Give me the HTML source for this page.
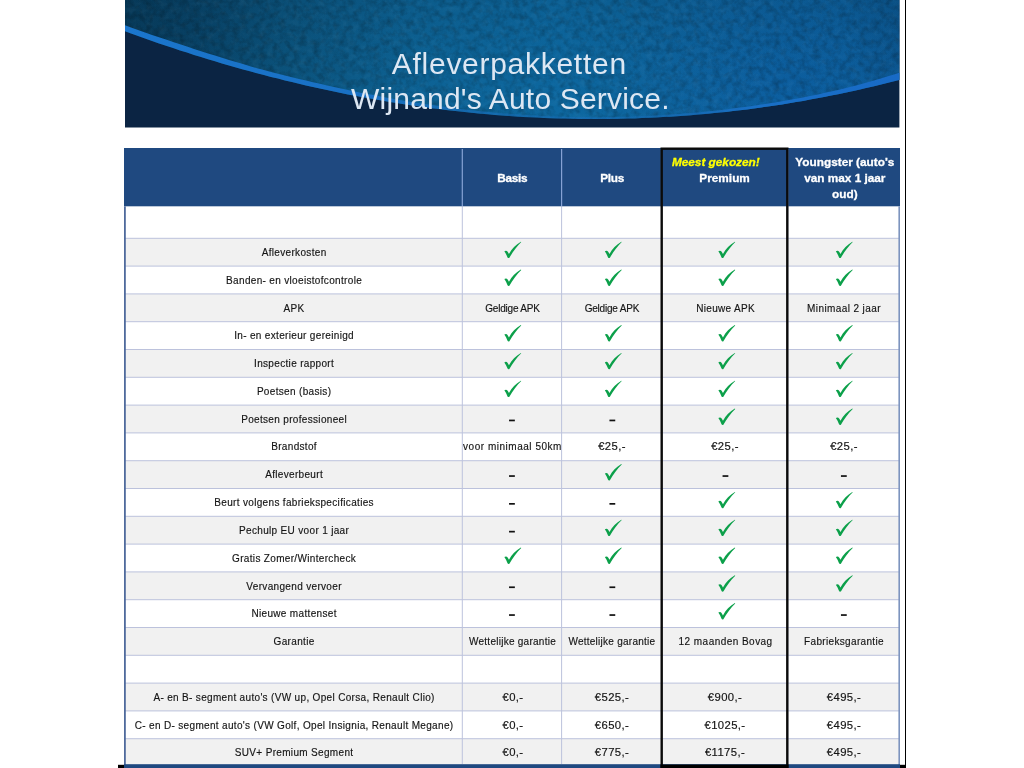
<!DOCTYPE html>
<html><head><meta charset="utf-8"><title>Afleverpakketten</title>
<style>
html,body{margin:0;padding:0;background:#fff;}
body{width:1024px;height:768px;position:relative;overflow:hidden;font-family:"Liberation Sans",sans-serif;}
#txt{position:absolute;left:0;top:0;width:1024px;height:768px;will-change:transform;}
.t{position:absolute;white-space:nowrap;text-align:center;transform:translateX(-50%);}
.c{font-size:10px;letter-spacing:0.33px;color:#141414;-webkit-text-stroke:0.15px #141414;line-height:12px;}
.h{font-size:11.8px;font-weight:700;color:#fff;line-height:16px;letter-spacing:0px;-webkit-text-stroke:0.3px currentColor;}
.title{font-size:30px;color:#dde7f3;line-height:34px;}
</style></head><body>
<svg width="1024" height="768" viewBox="0 0 1024 768" style="position:absolute;left:0;top:0">
<defs>
<linearGradient id="tex" x1="125" y1="0" x2="900" y2="0" gradientUnits="userSpaceOnUse">
<stop offset="0" stop-color="#073b5b"/><stop offset="0.085" stop-color="#084266"/><stop offset="0.21" stop-color="#0b547e"/><stop offset="0.38" stop-color="#0d6497"/><stop offset="0.56" stop-color="#0d69a2"/><stop offset="0.69" stop-color="#0d649c"/><stop offset="0.93" stop-color="#0c5f99"/><stop offset="1" stop-color="#0b558c"/>
</linearGradient>
<linearGradient id="vig" x1="0" y1="0" x2="0" y2="128" gradientUnits="userSpaceOnUse">
<stop offset="0" stop-color="#052a44" stop-opacity="0.14"/><stop offset="0.45" stop-color="#052a44" stop-opacity="0.05"/><stop offset="1" stop-color="#052a44" stop-opacity="0"/>
</linearGradient>
<radialGradient id="hl" cx="790" cy="100" r="190" gradientUnits="userSpaceOnUse">
<stop offset="0" stop-color="#0c5cb4" stop-opacity="0.30"/><stop offset="1" stop-color="#1468c0" stop-opacity="0"/>
</radialGradient>
<linearGradient id="ln" x1="125" y1="0" x2="900" y2="0" gradientUnits="userSpaceOnUse">
<stop offset="0" stop-color="#1b76cd" stop-opacity="1"/><stop offset="0.3" stop-color="#1a72c8" stop-opacity="0.95"/><stop offset="0.5" stop-color="#1a70c0" stop-opacity="0.45"/><stop offset="0.68" stop-color="#1a70c0" stop-opacity="0.45"/><stop offset="0.82" stop-color="#1a70c8" stop-opacity="0.95"/><stop offset="1" stop-color="#186ac6" stop-opacity="1"/>
</linearGradient>
<filter id="noise" x="0" y="0" width="100%" height="100%" color-interpolation-filters="sRGB">
<feTurbulence type="fractalNoise" baseFrequency="0.15" numOctaves="3" seed="7" result="n"/>
<feColorMatrix type="matrix" values="0 0 0 0 0  0 0 0 0 0  0 0 0 0 0  1.6 0 0 0 -0.62"/>
<feComposite in2="SourceGraphic" operator="in"/>
</filter>
<filter id="noise2" x="0" y="0" width="100%" height="100%" color-interpolation-filters="sRGB">
<feTurbulence type="fractalNoise" baseFrequency="0.15" numOctaves="3" seed="21" result="n"/>
<feColorMatrix type="matrix" values="0 0 0 0 1  0 0 0 0 1  0 0 0 0 1  1.6 0 0 0 -0.72"/>
<feComposite in2="SourceGraphic" operator="in"/>
</filter>
<clipPath id="bclip"><rect x="125" y="0" width="774.4" height="127.4"/></clipPath>
</defs>
<g clip-path="url(#bclip)">
<rect x="124" y="0" width="777" height="129" fill="#0b2443"/>
<path d="M124.0,31.0 L131.0,33.6 138.0,36.1 145.0,38.6 152.0,41.0 159.0,43.4 166.0,45.8 173.0,48.1 180.0,50.4 187.0,52.6 194.0,54.9 201.0,57.0 208.0,59.2 215.0,61.3 222.0,63.4 229.0,65.4 236.0,67.4 243.0,69.4 250.0,71.3 257.0,73.2 264.0,75.0 271.0,76.9 278.0,78.6 285.0,80.4 292.0,82.1 299.0,83.7 306.0,85.4 313.0,87.0 320.0,88.5 327.0,90.0 334.0,91.5 341.0,92.9 348.0,94.4 355.0,95.7 362.0,97.0 369.0,98.3 376.0,99.6 383.0,100.8 390.0,102.0 397.0,103.1 404.0,104.2 411.0,105.3 418.0,106.3 425.0,107.3 432.0,108.2 439.0,109.1 446.0,110.0 453.0,110.8 460.0,111.6 467.0,112.3 474.0,113.0 481.0,113.7 488.0,114.3 495.0,114.9 502.0,115.5 509.0,116.0 516.0,116.5 523.0,116.9 530.0,117.3 537.0,117.6 544.0,117.9 551.0,118.2 558.0,118.5 565.0,118.6 572.0,118.8 579.0,118.9 586.0,119.0 593.0,119.0 600.0,119.0 607.0,119.0 614.0,118.9 621.0,118.7 628.0,118.6 635.0,118.4 642.0,118.1 649.0,117.8 656.0,117.5 663.0,117.1 670.0,116.7 677.0,116.2 684.0,115.7 691.0,115.2 698.0,114.6 705.0,114.0 712.0,113.3 719.0,112.6 726.0,111.9 733.0,111.1 740.0,110.2 747.0,109.4 754.0,108.5 761.0,107.5 768.0,106.5 775.0,105.5 782.0,104.4 789.0,103.3 796.0,102.1 803.0,100.9 810.0,99.6 817.0,98.3 824.0,97.0 831.0,95.6 838.0,94.2 845.0,92.7 852.0,91.2 859.0,89.7 866.0,88.1 873.0,86.4 880.0,84.7 887.0,83.0 894.0,81.2 901.0,79.4 L901,-2 L124,-2 Z" fill="url(#tex)"/>
<path d="M124.0,31.0 L131.0,33.6 138.0,36.1 145.0,38.6 152.0,41.0 159.0,43.4 166.0,45.8 173.0,48.1 180.0,50.4 187.0,52.6 194.0,54.9 201.0,57.0 208.0,59.2 215.0,61.3 222.0,63.4 229.0,65.4 236.0,67.4 243.0,69.4 250.0,71.3 257.0,73.2 264.0,75.0 271.0,76.9 278.0,78.6 285.0,80.4 292.0,82.1 299.0,83.7 306.0,85.4 313.0,87.0 320.0,88.5 327.0,90.0 334.0,91.5 341.0,92.9 348.0,94.4 355.0,95.7 362.0,97.0 369.0,98.3 376.0,99.6 383.0,100.8 390.0,102.0 397.0,103.1 404.0,104.2 411.0,105.3 418.0,106.3 425.0,107.3 432.0,108.2 439.0,109.1 446.0,110.0 453.0,110.8 460.0,111.6 467.0,112.3 474.0,113.0 481.0,113.7 488.0,114.3 495.0,114.9 502.0,115.5 509.0,116.0 516.0,116.5 523.0,116.9 530.0,117.3 537.0,117.6 544.0,117.9 551.0,118.2 558.0,118.5 565.0,118.6 572.0,118.8 579.0,118.9 586.0,119.0 593.0,119.0 600.0,119.0 607.0,119.0 614.0,118.9 621.0,118.7 628.0,118.6 635.0,118.4 642.0,118.1 649.0,117.8 656.0,117.5 663.0,117.1 670.0,116.7 677.0,116.2 684.0,115.7 691.0,115.2 698.0,114.6 705.0,114.0 712.0,113.3 719.0,112.6 726.0,111.9 733.0,111.1 740.0,110.2 747.0,109.4 754.0,108.5 761.0,107.5 768.0,106.5 775.0,105.5 782.0,104.4 789.0,103.3 796.0,102.1 803.0,100.9 810.0,99.6 817.0,98.3 824.0,97.0 831.0,95.6 838.0,94.2 845.0,92.7 852.0,91.2 859.0,89.7 866.0,88.1 873.0,86.4 880.0,84.7 887.0,83.0 894.0,81.2 901.0,79.4 L901,-2 L124,-2 Z" fill="url(#hl)"/>
<path d="M124.0,31.0 L131.0,33.6 138.0,36.1 145.0,38.6 152.0,41.0 159.0,43.4 166.0,45.8 173.0,48.1 180.0,50.4 187.0,52.6 194.0,54.9 201.0,57.0 208.0,59.2 215.0,61.3 222.0,63.4 229.0,65.4 236.0,67.4 243.0,69.4 250.0,71.3 257.0,73.2 264.0,75.0 271.0,76.9 278.0,78.6 285.0,80.4 292.0,82.1 299.0,83.7 306.0,85.4 313.0,87.0 320.0,88.5 327.0,90.0 334.0,91.5 341.0,92.9 348.0,94.4 355.0,95.7 362.0,97.0 369.0,98.3 376.0,99.6 383.0,100.8 390.0,102.0 397.0,103.1 404.0,104.2 411.0,105.3 418.0,106.3 425.0,107.3 432.0,108.2 439.0,109.1 446.0,110.0 453.0,110.8 460.0,111.6 467.0,112.3 474.0,113.0 481.0,113.7 488.0,114.3 495.0,114.9 502.0,115.5 509.0,116.0 516.0,116.5 523.0,116.9 530.0,117.3 537.0,117.6 544.0,117.9 551.0,118.2 558.0,118.5 565.0,118.6 572.0,118.8 579.0,118.9 586.0,119.0 593.0,119.0 600.0,119.0 607.0,119.0 614.0,118.9 621.0,118.7 628.0,118.6 635.0,118.4 642.0,118.1 649.0,117.8 656.0,117.5 663.0,117.1 670.0,116.7 677.0,116.2 684.0,115.7 691.0,115.2 698.0,114.6 705.0,114.0 712.0,113.3 719.0,112.6 726.0,111.9 733.0,111.1 740.0,110.2 747.0,109.4 754.0,108.5 761.0,107.5 768.0,106.5 775.0,105.5 782.0,104.4 789.0,103.3 796.0,102.1 803.0,100.9 810.0,99.6 817.0,98.3 824.0,97.0 831.0,95.6 838.0,94.2 845.0,92.7 852.0,91.2 859.0,89.7 866.0,88.1 873.0,86.4 880.0,84.7 887.0,83.0 894.0,81.2 901.0,79.4 L901,-2 L124,-2 Z" fill="url(#vig)"/>
<path d="M124.0,31.0 L131.0,33.6 138.0,36.1 145.0,38.6 152.0,41.0 159.0,43.4 166.0,45.8 173.0,48.1 180.0,50.4 187.0,52.6 194.0,54.9 201.0,57.0 208.0,59.2 215.0,61.3 222.0,63.4 229.0,65.4 236.0,67.4 243.0,69.4 250.0,71.3 257.0,73.2 264.0,75.0 271.0,76.9 278.0,78.6 285.0,80.4 292.0,82.1 299.0,83.7 306.0,85.4 313.0,87.0 320.0,88.5 327.0,90.0 334.0,91.5 341.0,92.9 348.0,94.4 355.0,95.7 362.0,97.0 369.0,98.3 376.0,99.6 383.0,100.8 390.0,102.0 397.0,103.1 404.0,104.2 411.0,105.3 418.0,106.3 425.0,107.3 432.0,108.2 439.0,109.1 446.0,110.0 453.0,110.8 460.0,111.6 467.0,112.3 474.0,113.0 481.0,113.7 488.0,114.3 495.0,114.9 502.0,115.5 509.0,116.0 516.0,116.5 523.0,116.9 530.0,117.3 537.0,117.6 544.0,117.9 551.0,118.2 558.0,118.5 565.0,118.6 572.0,118.8 579.0,118.9 586.0,119.0 593.0,119.0 600.0,119.0 607.0,119.0 614.0,118.9 621.0,118.7 628.0,118.6 635.0,118.4 642.0,118.1 649.0,117.8 656.0,117.5 663.0,117.1 670.0,116.7 677.0,116.2 684.0,115.7 691.0,115.2 698.0,114.6 705.0,114.0 712.0,113.3 719.0,112.6 726.0,111.9 733.0,111.1 740.0,110.2 747.0,109.4 754.0,108.5 761.0,107.5 768.0,106.5 775.0,105.5 782.0,104.4 789.0,103.3 796.0,102.1 803.0,100.9 810.0,99.6 817.0,98.3 824.0,97.0 831.0,95.6 838.0,94.2 845.0,92.7 852.0,91.2 859.0,89.7 866.0,88.1 873.0,86.4 880.0,84.7 887.0,83.0 894.0,81.2 901.0,79.4 L901,-2 L124,-2 Z" fill="#021a30" filter="url(#noise)" opacity="0.28"/>
<path d="M124.0,31.0 L131.0,33.6 138.0,36.1 145.0,38.6 152.0,41.0 159.0,43.4 166.0,45.8 173.0,48.1 180.0,50.4 187.0,52.6 194.0,54.9 201.0,57.0 208.0,59.2 215.0,61.3 222.0,63.4 229.0,65.4 236.0,67.4 243.0,69.4 250.0,71.3 257.0,73.2 264.0,75.0 271.0,76.9 278.0,78.6 285.0,80.4 292.0,82.1 299.0,83.7 306.0,85.4 313.0,87.0 320.0,88.5 327.0,90.0 334.0,91.5 341.0,92.9 348.0,94.4 355.0,95.7 362.0,97.0 369.0,98.3 376.0,99.6 383.0,100.8 390.0,102.0 397.0,103.1 404.0,104.2 411.0,105.3 418.0,106.3 425.0,107.3 432.0,108.2 439.0,109.1 446.0,110.0 453.0,110.8 460.0,111.6 467.0,112.3 474.0,113.0 481.0,113.7 488.0,114.3 495.0,114.9 502.0,115.5 509.0,116.0 516.0,116.5 523.0,116.9 530.0,117.3 537.0,117.6 544.0,117.9 551.0,118.2 558.0,118.5 565.0,118.6 572.0,118.8 579.0,118.9 586.0,119.0 593.0,119.0 600.0,119.0 607.0,119.0 614.0,118.9 621.0,118.7 628.0,118.6 635.0,118.4 642.0,118.1 649.0,117.8 656.0,117.5 663.0,117.1 670.0,116.7 677.0,116.2 684.0,115.7 691.0,115.2 698.0,114.6 705.0,114.0 712.0,113.3 719.0,112.6 726.0,111.9 733.0,111.1 740.0,110.2 747.0,109.4 754.0,108.5 761.0,107.5 768.0,106.5 775.0,105.5 782.0,104.4 789.0,103.3 796.0,102.1 803.0,100.9 810.0,99.6 817.0,98.3 824.0,97.0 831.0,95.6 838.0,94.2 845.0,92.7 852.0,91.2 859.0,89.7 866.0,88.1 873.0,86.4 880.0,84.7 887.0,83.0 894.0,81.2 901.0,79.4 L901,-2 L124,-2 Z" fill="#fff" filter="url(#noise2)" opacity="0.05"/>
<path d="M124.0,31.0 L131.0,33.6 138.0,36.1 145.0,38.6 152.0,41.0 159.0,43.4 166.0,45.8 173.0,48.1 180.0,50.4 187.0,52.6 194.0,54.9 201.0,57.0 208.0,59.2 215.0,61.3 222.0,63.4 229.0,65.4 236.0,67.4 243.0,69.4 250.0,71.3 257.0,73.2 264.0,75.0 271.0,76.9 278.0,78.6 285.0,80.4 292.0,82.1 299.0,83.7 306.0,85.4 313.0,87.0 320.0,88.5 327.0,90.0 334.0,91.5 341.0,92.9 348.0,94.4 355.0,95.7 362.0,97.0 369.0,98.3 376.0,99.6 383.0,100.8 390.0,102.0 397.0,103.1 404.0,104.2 411.0,105.3 418.0,106.3 425.0,107.3 432.0,108.2 439.0,109.1 446.0,110.0 453.0,110.8 460.0,111.6 467.0,112.3 474.0,113.0 481.0,113.7 488.0,114.3 495.0,114.9 502.0,115.5 509.0,116.0 516.0,116.5 523.0,116.9 530.0,117.3 537.0,117.6 544.0,117.9 551.0,118.2 558.0,118.5 565.0,118.6 572.0,118.8 579.0,118.9 586.0,119.0 593.0,119.0 600.0,119.0 607.0,119.0 614.0,118.9 621.0,118.7 628.0,118.6 635.0,118.4 642.0,118.1 649.0,117.8 656.0,117.5 663.0,117.1 670.0,116.7 677.0,116.2 684.0,115.7 691.0,115.2 698.0,114.6 705.0,114.0 712.0,113.3 719.0,112.6 726.0,111.9 733.0,111.1 740.0,110.2 747.0,109.4 754.0,108.5 761.0,107.5 768.0,106.5 775.0,105.5 782.0,104.4 789.0,103.3 796.0,102.1 803.0,100.9 810.0,99.6 817.0,98.3 824.0,97.0 831.0,95.6 838.0,94.2 845.0,92.7 852.0,91.2 859.0,89.7 866.0,88.1 873.0,86.4 880.0,84.7 887.0,83.0 894.0,81.2 901.0,79.4 L901.0,72.2 894.0,74.4 887.0,76.6 880.0,78.7 873.0,80.7 866.0,82.7 859.0,84.7 852.0,86.5 845.0,88.2 838.0,89.9 831.0,91.5 824.0,93.1 817.0,94.7 810.0,96.1 803.0,97.4 796.0,98.7 789.0,100.0 782.0,101.2 775.0,102.4 768.0,103.5 761.0,104.6 754.0,105.7 747.0,106.7 740.0,107.6 733.0,108.5 726.0,109.4 719.0,110.2 712.0,111.0 705.0,111.7 698.0,112.4 691.0,113.0 684.0,113.6 677.0,114.1 670.0,114.6 663.0,115.1 656.0,115.5 649.0,115.8 642.0,116.1 635.0,116.4 628.0,116.7 621.0,116.9 614.0,117.0 607.0,117.1 600.0,117.2 593.0,117.2 586.0,117.1 579.0,117.0 572.0,116.9 565.0,116.7 558.0,116.5 551.0,116.2 544.0,115.9 537.0,115.6 530.0,115.2 523.0,114.8 516.0,114.3 509.0,113.8 502.0,113.3 495.0,112.7 488.0,112.0 481.0,111.3 474.0,110.5 467.0,109.7 460.0,108.9 453.0,108.0 446.0,107.1 439.0,106.1 432.0,105.1 425.0,104.1 418.0,103.0 411.0,101.9 404.0,100.7 397.0,99.5 390.0,98.3 383.0,97.0 376.0,95.6 369.0,94.3 362.0,92.9 355.0,91.4 348.0,90.0 341.0,88.4 334.0,86.9 327.0,85.4 320.0,83.8 313.0,82.2 306.0,80.6 299.0,79.0 292.0,77.3 285.0,75.5 278.0,73.7 271.0,71.9 264.0,70.1 257.0,68.2 250.0,66.2 243.0,64.1 236.0,62.1 229.0,60.0 222.0,57.8 215.0,55.6 208.0,53.4 201.0,51.2 194.0,48.9 187.0,46.5 180.0,44.2 173.0,41.9 166.0,39.6 159.0,37.2 152.0,34.9 145.0,32.4 138.0,30.0 131.0,27.5 124.0,24.9 Z" fill="url(#ln)"/>
</g>
<rect x="905" y="0" width="1" height="768" fill="#000"/>
<rect x="118" y="764.8" width="787" height="4" fill="#000"/>
<rect x="124.0" y="148.0" width="776.0" height="620.0" fill="#ffffff"/>
<rect x="124.0" y="238.3" width="776.0" height="27.80" fill="#f1f1f1"/>
<rect x="124.0" y="293.90000000000003" width="776.0" height="27.80" fill="#f1f1f1"/>
<rect x="124.0" y="349.5" width="776.0" height="27.80" fill="#f1f1f1"/>
<rect x="124.0" y="405.1" width="776.0" height="27.80" fill="#f1f1f1"/>
<rect x="124.0" y="460.70000000000005" width="776.0" height="27.80" fill="#f1f1f1"/>
<rect x="124.0" y="516.3" width="776.0" height="27.80" fill="#f1f1f1"/>
<rect x="124.0" y="571.9000000000001" width="776.0" height="27.80" fill="#f1f1f1"/>
<rect x="124.0" y="627.5" width="776.0" height="27.80" fill="#f1f1f1"/>
<rect x="124.0" y="683.1" width="776.0" height="27.80" fill="#f1f1f1"/>
<rect x="124.0" y="738.7" width="776.0" height="27.80" fill="#f1f1f1"/>
<rect x="124.0" y="237.80" width="776.0" height="1.0" fill="#bcc2dc"/>
<rect x="124.0" y="265.60" width="776.0" height="1.0" fill="#bcc2dc"/>
<rect x="124.0" y="293.40" width="776.0" height="1.0" fill="#bcc2dc"/>
<rect x="124.0" y="321.20" width="776.0" height="1.0" fill="#bcc2dc"/>
<rect x="124.0" y="349.00" width="776.0" height="1.0" fill="#bcc2dc"/>
<rect x="124.0" y="376.80" width="776.0" height="1.0" fill="#bcc2dc"/>
<rect x="124.0" y="404.60" width="776.0" height="1.0" fill="#bcc2dc"/>
<rect x="124.0" y="432.40" width="776.0" height="1.0" fill="#bcc2dc"/>
<rect x="124.0" y="460.20" width="776.0" height="1.0" fill="#bcc2dc"/>
<rect x="124.0" y="488.00" width="776.0" height="1.0" fill="#bcc2dc"/>
<rect x="124.0" y="515.80" width="776.0" height="1.0" fill="#bcc2dc"/>
<rect x="124.0" y="543.60" width="776.0" height="1.0" fill="#bcc2dc"/>
<rect x="124.0" y="571.40" width="776.0" height="1.0" fill="#bcc2dc"/>
<rect x="124.0" y="599.20" width="776.0" height="1.0" fill="#bcc2dc"/>
<rect x="124.0" y="627.00" width="776.0" height="1.0" fill="#bcc2dc"/>
<rect x="124.0" y="654.80" width="776.0" height="1.0" fill="#bcc2dc"/>
<rect x="124.0" y="682.60" width="776.0" height="1.0" fill="#bcc2dc"/>
<rect x="124.0" y="710.40" width="776.0" height="1.0" fill="#bcc2dc"/>
<rect x="124.0" y="738.20" width="776.0" height="1.0" fill="#bcc2dc"/>
<rect x="124.0" y="148.0" width="776.0" height="58.30000000000001" fill="#1f4980"/>
<rect x="461.80" y="206.3" width="1.0" height="557.7" fill="#bcc2dc"/>
<rect x="461.70" y="149.0" width="1.2" height="57.30000000000001" fill="#86a2d4"/>
<rect x="561.10" y="206.3" width="1.0" height="557.7" fill="#bcc2dc"/>
<rect x="561.00" y="149.0" width="1.2" height="57.30000000000001" fill="#86a2d4"/>
<rect x="661.00" y="206.3" width="1.0" height="557.7" fill="#bcc2dc"/>
<rect x="660.90" y="149.0" width="1.2" height="57.30000000000001" fill="#86a2d4"/>
<rect x="787.30" y="206.3" width="1.0" height="557.7" fill="#bcc2dc"/>
<rect x="787.20" y="149.0" width="1.2" height="57.30000000000001" fill="#86a2d4"/>
<rect x="124.0" y="206.3" width="1.8" height="561.7" fill="#4f6a9c"/>
<rect x="898.4" y="206.3" width="1.6" height="561.7" fill="#7d94be"/>
<rect x="124.0" y="764.2" width="776.0" height="4" fill="#1f4980"/>
<rect x="661.7" y="148.7" width="125.6" height="625" fill="none" stroke="#0a0a0a" stroke-width="2.4"/>
<rect x="660.5" y="764.5" width="128" height="4" fill="#000"/>
<path transform="translate(504.35,241.90)" d="M0,9.3 C1.3,8.4 2.5,8.5 3.5,10.1 L4.6,12.1 C7.4,7 11.4,2.6 16.5,-0.2 L16.9,0.2 C12.3,4.8 8.2,10.3 5.2,15.7 C4.7,16.4 3.6,16.4 3.2,15.5 C2.2,13.1 1.2,11 0,9.3 Z" fill="#0ca04a"/>
<path transform="translate(604.85,241.90)" d="M0,9.3 C1.3,8.4 2.5,8.5 3.5,10.1 L4.6,12.1 C7.4,7 11.4,2.6 16.5,-0.2 L16.9,0.2 C12.3,4.8 8.2,10.3 5.2,15.7 C4.7,16.4 3.6,16.4 3.2,15.5 C2.2,13.1 1.2,11 0,9.3 Z" fill="#0ca04a"/>
<path transform="translate(718.35,241.90)" d="M0,9.3 C1.3,8.4 2.5,8.5 3.5,10.1 L4.6,12.1 C7.4,7 11.4,2.6 16.5,-0.2 L16.9,0.2 C12.3,4.8 8.2,10.3 5.2,15.7 C4.7,16.4 3.6,16.4 3.2,15.5 C2.2,13.1 1.2,11 0,9.3 Z" fill="#0ca04a"/>
<path transform="translate(835.85,241.90)" d="M0,9.3 C1.3,8.4 2.5,8.5 3.5,10.1 L4.6,12.1 C7.4,7 11.4,2.6 16.5,-0.2 L16.9,0.2 C12.3,4.8 8.2,10.3 5.2,15.7 C4.7,16.4 3.6,16.4 3.2,15.5 C2.2,13.1 1.2,11 0,9.3 Z" fill="#0ca04a"/>
<path transform="translate(504.35,269.70)" d="M0,9.3 C1.3,8.4 2.5,8.5 3.5,10.1 L4.6,12.1 C7.4,7 11.4,2.6 16.5,-0.2 L16.9,0.2 C12.3,4.8 8.2,10.3 5.2,15.7 C4.7,16.4 3.6,16.4 3.2,15.5 C2.2,13.1 1.2,11 0,9.3 Z" fill="#0ca04a"/>
<path transform="translate(604.85,269.70)" d="M0,9.3 C1.3,8.4 2.5,8.5 3.5,10.1 L4.6,12.1 C7.4,7 11.4,2.6 16.5,-0.2 L16.9,0.2 C12.3,4.8 8.2,10.3 5.2,15.7 C4.7,16.4 3.6,16.4 3.2,15.5 C2.2,13.1 1.2,11 0,9.3 Z" fill="#0ca04a"/>
<path transform="translate(718.35,269.70)" d="M0,9.3 C1.3,8.4 2.5,8.5 3.5,10.1 L4.6,12.1 C7.4,7 11.4,2.6 16.5,-0.2 L16.9,0.2 C12.3,4.8 8.2,10.3 5.2,15.7 C4.7,16.4 3.6,16.4 3.2,15.5 C2.2,13.1 1.2,11 0,9.3 Z" fill="#0ca04a"/>
<path transform="translate(835.85,269.70)" d="M0,9.3 C1.3,8.4 2.5,8.5 3.5,10.1 L4.6,12.1 C7.4,7 11.4,2.6 16.5,-0.2 L16.9,0.2 C12.3,4.8 8.2,10.3 5.2,15.7 C4.7,16.4 3.6,16.4 3.2,15.5 C2.2,13.1 1.2,11 0,9.3 Z" fill="#0ca04a"/>
<path transform="translate(504.35,325.30)" d="M0,9.3 C1.3,8.4 2.5,8.5 3.5,10.1 L4.6,12.1 C7.4,7 11.4,2.6 16.5,-0.2 L16.9,0.2 C12.3,4.8 8.2,10.3 5.2,15.7 C4.7,16.4 3.6,16.4 3.2,15.5 C2.2,13.1 1.2,11 0,9.3 Z" fill="#0ca04a"/>
<path transform="translate(604.85,325.30)" d="M0,9.3 C1.3,8.4 2.5,8.5 3.5,10.1 L4.6,12.1 C7.4,7 11.4,2.6 16.5,-0.2 L16.9,0.2 C12.3,4.8 8.2,10.3 5.2,15.7 C4.7,16.4 3.6,16.4 3.2,15.5 C2.2,13.1 1.2,11 0,9.3 Z" fill="#0ca04a"/>
<path transform="translate(718.35,325.30)" d="M0,9.3 C1.3,8.4 2.5,8.5 3.5,10.1 L4.6,12.1 C7.4,7 11.4,2.6 16.5,-0.2 L16.9,0.2 C12.3,4.8 8.2,10.3 5.2,15.7 C4.7,16.4 3.6,16.4 3.2,15.5 C2.2,13.1 1.2,11 0,9.3 Z" fill="#0ca04a"/>
<path transform="translate(835.85,325.30)" d="M0,9.3 C1.3,8.4 2.5,8.5 3.5,10.1 L4.6,12.1 C7.4,7 11.4,2.6 16.5,-0.2 L16.9,0.2 C12.3,4.8 8.2,10.3 5.2,15.7 C4.7,16.4 3.6,16.4 3.2,15.5 C2.2,13.1 1.2,11 0,9.3 Z" fill="#0ca04a"/>
<path transform="translate(504.35,353.10)" d="M0,9.3 C1.3,8.4 2.5,8.5 3.5,10.1 L4.6,12.1 C7.4,7 11.4,2.6 16.5,-0.2 L16.9,0.2 C12.3,4.8 8.2,10.3 5.2,15.7 C4.7,16.4 3.6,16.4 3.2,15.5 C2.2,13.1 1.2,11 0,9.3 Z" fill="#0ca04a"/>
<path transform="translate(604.85,353.10)" d="M0,9.3 C1.3,8.4 2.5,8.5 3.5,10.1 L4.6,12.1 C7.4,7 11.4,2.6 16.5,-0.2 L16.9,0.2 C12.3,4.8 8.2,10.3 5.2,15.7 C4.7,16.4 3.6,16.4 3.2,15.5 C2.2,13.1 1.2,11 0,9.3 Z" fill="#0ca04a"/>
<path transform="translate(718.35,353.10)" d="M0,9.3 C1.3,8.4 2.5,8.5 3.5,10.1 L4.6,12.1 C7.4,7 11.4,2.6 16.5,-0.2 L16.9,0.2 C12.3,4.8 8.2,10.3 5.2,15.7 C4.7,16.4 3.6,16.4 3.2,15.5 C2.2,13.1 1.2,11 0,9.3 Z" fill="#0ca04a"/>
<path transform="translate(835.85,353.10)" d="M0,9.3 C1.3,8.4 2.5,8.5 3.5,10.1 L4.6,12.1 C7.4,7 11.4,2.6 16.5,-0.2 L16.9,0.2 C12.3,4.8 8.2,10.3 5.2,15.7 C4.7,16.4 3.6,16.4 3.2,15.5 C2.2,13.1 1.2,11 0,9.3 Z" fill="#0ca04a"/>
<path transform="translate(504.35,380.90)" d="M0,9.3 C1.3,8.4 2.5,8.5 3.5,10.1 L4.6,12.1 C7.4,7 11.4,2.6 16.5,-0.2 L16.9,0.2 C12.3,4.8 8.2,10.3 5.2,15.7 C4.7,16.4 3.6,16.4 3.2,15.5 C2.2,13.1 1.2,11 0,9.3 Z" fill="#0ca04a"/>
<path transform="translate(604.85,380.90)" d="M0,9.3 C1.3,8.4 2.5,8.5 3.5,10.1 L4.6,12.1 C7.4,7 11.4,2.6 16.5,-0.2 L16.9,0.2 C12.3,4.8 8.2,10.3 5.2,15.7 C4.7,16.4 3.6,16.4 3.2,15.5 C2.2,13.1 1.2,11 0,9.3 Z" fill="#0ca04a"/>
<path transform="translate(718.35,380.90)" d="M0,9.3 C1.3,8.4 2.5,8.5 3.5,10.1 L4.6,12.1 C7.4,7 11.4,2.6 16.5,-0.2 L16.9,0.2 C12.3,4.8 8.2,10.3 5.2,15.7 C4.7,16.4 3.6,16.4 3.2,15.5 C2.2,13.1 1.2,11 0,9.3 Z" fill="#0ca04a"/>
<path transform="translate(835.85,380.90)" d="M0,9.3 C1.3,8.4 2.5,8.5 3.5,10.1 L4.6,12.1 C7.4,7 11.4,2.6 16.5,-0.2 L16.9,0.2 C12.3,4.8 8.2,10.3 5.2,15.7 C4.7,16.4 3.6,16.4 3.2,15.5 C2.2,13.1 1.2,11 0,9.3 Z" fill="#0ca04a"/>
<rect x="509.05" y="419.60" width="5.8" height="1.7" fill="#111"/>
<rect x="609.45" y="419.60" width="5.8" height="1.7" fill="#111"/>
<path transform="translate(718.35,408.70)" d="M0,9.3 C1.3,8.4 2.5,8.5 3.5,10.1 L4.6,12.1 C7.4,7 11.4,2.6 16.5,-0.2 L16.9,0.2 C12.3,4.8 8.2,10.3 5.2,15.7 C4.7,16.4 3.6,16.4 3.2,15.5 C2.2,13.1 1.2,11 0,9.3 Z" fill="#0ca04a"/>
<path transform="translate(835.85,408.70)" d="M0,9.3 C1.3,8.4 2.5,8.5 3.5,10.1 L4.6,12.1 C7.4,7 11.4,2.6 16.5,-0.2 L16.9,0.2 C12.3,4.8 8.2,10.3 5.2,15.7 C4.7,16.4 3.6,16.4 3.2,15.5 C2.2,13.1 1.2,11 0,9.3 Z" fill="#0ca04a"/>
<rect x="509.05" y="475.20" width="5.8" height="1.7" fill="#111"/>
<path transform="translate(604.85,464.30)" d="M0,9.3 C1.3,8.4 2.5,8.5 3.5,10.1 L4.6,12.1 C7.4,7 11.4,2.6 16.5,-0.2 L16.9,0.2 C12.3,4.8 8.2,10.3 5.2,15.7 C4.7,16.4 3.6,16.4 3.2,15.5 C2.2,13.1 1.2,11 0,9.3 Z" fill="#0ca04a"/>
<rect x="722.55" y="475.20" width="5.8" height="1.7" fill="#111"/>
<rect x="840.95" y="475.20" width="5.8" height="1.7" fill="#111"/>
<rect x="509.05" y="503.00" width="5.8" height="1.7" fill="#111"/>
<rect x="609.45" y="503.00" width="5.8" height="1.7" fill="#111"/>
<path transform="translate(718.35,492.10)" d="M0,9.3 C1.3,8.4 2.5,8.5 3.5,10.1 L4.6,12.1 C7.4,7 11.4,2.6 16.5,-0.2 L16.9,0.2 C12.3,4.8 8.2,10.3 5.2,15.7 C4.7,16.4 3.6,16.4 3.2,15.5 C2.2,13.1 1.2,11 0,9.3 Z" fill="#0ca04a"/>
<path transform="translate(835.85,492.10)" d="M0,9.3 C1.3,8.4 2.5,8.5 3.5,10.1 L4.6,12.1 C7.4,7 11.4,2.6 16.5,-0.2 L16.9,0.2 C12.3,4.8 8.2,10.3 5.2,15.7 C4.7,16.4 3.6,16.4 3.2,15.5 C2.2,13.1 1.2,11 0,9.3 Z" fill="#0ca04a"/>
<rect x="509.05" y="530.80" width="5.8" height="1.7" fill="#111"/>
<path transform="translate(604.85,519.90)" d="M0,9.3 C1.3,8.4 2.5,8.5 3.5,10.1 L4.6,12.1 C7.4,7 11.4,2.6 16.5,-0.2 L16.9,0.2 C12.3,4.8 8.2,10.3 5.2,15.7 C4.7,16.4 3.6,16.4 3.2,15.5 C2.2,13.1 1.2,11 0,9.3 Z" fill="#0ca04a"/>
<path transform="translate(718.35,519.90)" d="M0,9.3 C1.3,8.4 2.5,8.5 3.5,10.1 L4.6,12.1 C7.4,7 11.4,2.6 16.5,-0.2 L16.9,0.2 C12.3,4.8 8.2,10.3 5.2,15.7 C4.7,16.4 3.6,16.4 3.2,15.5 C2.2,13.1 1.2,11 0,9.3 Z" fill="#0ca04a"/>
<path transform="translate(835.85,519.90)" d="M0,9.3 C1.3,8.4 2.5,8.5 3.5,10.1 L4.6,12.1 C7.4,7 11.4,2.6 16.5,-0.2 L16.9,0.2 C12.3,4.8 8.2,10.3 5.2,15.7 C4.7,16.4 3.6,16.4 3.2,15.5 C2.2,13.1 1.2,11 0,9.3 Z" fill="#0ca04a"/>
<path transform="translate(504.35,547.70)" d="M0,9.3 C1.3,8.4 2.5,8.5 3.5,10.1 L4.6,12.1 C7.4,7 11.4,2.6 16.5,-0.2 L16.9,0.2 C12.3,4.8 8.2,10.3 5.2,15.7 C4.7,16.4 3.6,16.4 3.2,15.5 C2.2,13.1 1.2,11 0,9.3 Z" fill="#0ca04a"/>
<path transform="translate(604.85,547.70)" d="M0,9.3 C1.3,8.4 2.5,8.5 3.5,10.1 L4.6,12.1 C7.4,7 11.4,2.6 16.5,-0.2 L16.9,0.2 C12.3,4.8 8.2,10.3 5.2,15.7 C4.7,16.4 3.6,16.4 3.2,15.5 C2.2,13.1 1.2,11 0,9.3 Z" fill="#0ca04a"/>
<path transform="translate(718.35,547.70)" d="M0,9.3 C1.3,8.4 2.5,8.5 3.5,10.1 L4.6,12.1 C7.4,7 11.4,2.6 16.5,-0.2 L16.9,0.2 C12.3,4.8 8.2,10.3 5.2,15.7 C4.7,16.4 3.6,16.4 3.2,15.5 C2.2,13.1 1.2,11 0,9.3 Z" fill="#0ca04a"/>
<path transform="translate(835.85,547.70)" d="M0,9.3 C1.3,8.4 2.5,8.5 3.5,10.1 L4.6,12.1 C7.4,7 11.4,2.6 16.5,-0.2 L16.9,0.2 C12.3,4.8 8.2,10.3 5.2,15.7 C4.7,16.4 3.6,16.4 3.2,15.5 C2.2,13.1 1.2,11 0,9.3 Z" fill="#0ca04a"/>
<rect x="509.05" y="586.40" width="5.8" height="1.7" fill="#111"/>
<rect x="609.45" y="586.40" width="5.8" height="1.7" fill="#111"/>
<path transform="translate(718.35,575.50)" d="M0,9.3 C1.3,8.4 2.5,8.5 3.5,10.1 L4.6,12.1 C7.4,7 11.4,2.6 16.5,-0.2 L16.9,0.2 C12.3,4.8 8.2,10.3 5.2,15.7 C4.7,16.4 3.6,16.4 3.2,15.5 C2.2,13.1 1.2,11 0,9.3 Z" fill="#0ca04a"/>
<path transform="translate(835.85,575.50)" d="M0,9.3 C1.3,8.4 2.5,8.5 3.5,10.1 L4.6,12.1 C7.4,7 11.4,2.6 16.5,-0.2 L16.9,0.2 C12.3,4.8 8.2,10.3 5.2,15.7 C4.7,16.4 3.6,16.4 3.2,15.5 C2.2,13.1 1.2,11 0,9.3 Z" fill="#0ca04a"/>
<rect x="509.05" y="614.20" width="5.8" height="1.7" fill="#111"/>
<rect x="609.45" y="614.20" width="5.8" height="1.7" fill="#111"/>
<path transform="translate(718.35,603.30)" d="M0,9.3 C1.3,8.4 2.5,8.5 3.5,10.1 L4.6,12.1 C7.4,7 11.4,2.6 16.5,-0.2 L16.9,0.2 C12.3,4.8 8.2,10.3 5.2,15.7 C4.7,16.4 3.6,16.4 3.2,15.5 C2.2,13.1 1.2,11 0,9.3 Z" fill="#0ca04a"/>
<rect x="840.95" y="614.20" width="5.8" height="1.7" fill="#111"/>
</svg>
<div id="txt">
<div class="t title" style="left:509.3px;top:46.6px;letter-spacing:0.72px">Afleverpakketten</div>
<div class="t title" style="left:510.4px;top:82.2px;letter-spacing:0.19px">Wijnand's Auto Service.</div>
<div class="t h" style="left:512.2px;top:170px;letter-spacing:-0.3px">Basis</div>
<div class="t h" style="left:612.1px;top:170px;letter-spacing:-0.3px">Plus</div>
<div class="t h" style="left:715.8px;top:154px;color:#ffff00;font-style:italic">Meest gekozen!</div>
<div class="t h" style="left:724.6px;top:170px">Premium</div>
<div class="t h" style="left:844.8px;top:154px">Youngster (auto's</div>
<div class="t h" style="left:844.8px;top:170px">van max 1 jaar</div>
<div class="t h" style="left:844.8px;top:186px">oud)</div>
<div class="t c" style="left:294.1px;top:247.0px">Afleverkosten</div>
<div class="t c" style="left:294.1px;top:275.0px">Banden- en vloeistofcontrole</div>
<div class="t c" style="left:294.1px;top:303.0px">APK</div>
<div class="t c" style="left:512.5px;top:303.0px;letter-spacing:-0.2px;">Geldige APK</div>
<div class="t c" style="left:611.9px;top:303.0px;letter-spacing:-0.2px;">Geldige APK</div>
<div class="t c" style="left:725.6px;top:303.0px;">Nieuwe APK</div>
<div class="t c" style="left:844.0px;top:303.0px;letter-spacing:0.4px;">Minimaal 2 jaar</div>
<div class="t c" style="left:294.1px;top:330.0px">In- en exterieur gereinigd</div>
<div class="t c" style="left:294.1px;top:358.0px">Inspectie rapport</div>
<div class="t c" style="left:294.1px;top:386.0px">Poetsen (basis)</div>
<div class="t c" style="left:294.1px;top:414.0px">Poetsen professioneel</div>
<div class="t c" style="left:294.1px;top:441.0px">Brandstof</div>
<div class="t c" style="left:512.5px;top:441.0px;letter-spacing:0.52px;">voor minimaal 50km</div>
<div class="t c" style="left:611.9px;top:441.0px;transform:translateX(-50%) scaleX(1.13);">€25,-</div>
<div class="t c" style="left:725.6px;top:441.0px;transform:translateX(-50%) scaleX(1.13);margin-left:-0.7px;">€25,-</div>
<div class="t c" style="left:844.0px;top:441.0px;transform:translateX(-50%) scaleX(1.13);">€25,-</div>
<div class="t c" style="left:294.1px;top:469.0px">Afleverbeurt</div>
<div class="t c" style="left:294.1px;top:497.0px">Beurt volgens fabriekspecificaties</div>
<div class="t c" style="left:294.1px;top:525.0px">Pechulp EU voor 1 jaar</div>
<div class="t c" style="left:294.1px;top:553.0px">Gratis Zomer/Wintercheck</div>
<div class="t c" style="left:294.1px;top:581.0px">Vervangend vervoer</div>
<div class="t c" style="left:294.1px;top:608.0px">Nieuwe mattenset</div>
<div class="t c" style="left:294.1px;top:636.0px">Garantie</div>
<div class="t c" style="left:512.5px;top:636.0px;letter-spacing:0.26px;">Wettelijke garantie</div>
<div class="t c" style="left:611.9px;top:636.0px;letter-spacing:0.26px;">Wettelijke garantie</div>
<div class="t c" style="left:725.6px;top:636.0px;letter-spacing:0.46px;">12 maanden Bovag</div>
<div class="t c" style="left:844.0px;top:636.0px;">Fabrieksgarantie</div>
<div class="t c" style="left:294.1px;top:692.0px">A- en B- segment auto's (VW up, Opel Corsa, Renault Clio)</div>
<div class="t c" style="left:512.5px;top:692.0px;transform:translateX(-50%) scaleX(1.13);">€0,-</div>
<div class="t c" style="left:611.9px;top:692.0px;transform:translateX(-50%) scaleX(1.13);">€525,-</div>
<div class="t c" style="left:725.6px;top:692.0px;transform:translateX(-50%) scaleX(1.13);margin-left:-0.7px;">€900,-</div>
<div class="t c" style="left:844.0px;top:692.0px;transform:translateX(-50%) scaleX(1.13);">€495,-</div>
<div class="t c" style="left:294.1px;top:720.0px">C- en D- segment auto's (VW Golf, Opel Insignia, Renault Megane)</div>
<div class="t c" style="left:512.5px;top:720.0px;transform:translateX(-50%) scaleX(1.13);">€0,-</div>
<div class="t c" style="left:611.9px;top:720.0px;transform:translateX(-50%) scaleX(1.13);">€650,-</div>
<div class="t c" style="left:725.6px;top:720.0px;transform:translateX(-50%) scaleX(1.13);margin-left:-0.7px;">€1025,-</div>
<div class="t c" style="left:844.0px;top:720.0px;transform:translateX(-50%) scaleX(1.13);">€495,-</div>
<div class="t c" style="left:294.1px;top:747.0px">SUV+ Premium Segment</div>
<div class="t c" style="left:512.5px;top:747.0px;transform:translateX(-50%) scaleX(1.13);">€0,-</div>
<div class="t c" style="left:611.9px;top:747.0px;transform:translateX(-50%) scaleX(1.13);">€775,-</div>
<div class="t c" style="left:725.6px;top:747.0px;transform:translateX(-50%) scaleX(1.13);margin-left:-0.7px;">€1175,-</div>
<div class="t c" style="left:844.0px;top:747.0px;transform:translateX(-50%) scaleX(1.13);">€495,-</div>
</div>
</body></html>
